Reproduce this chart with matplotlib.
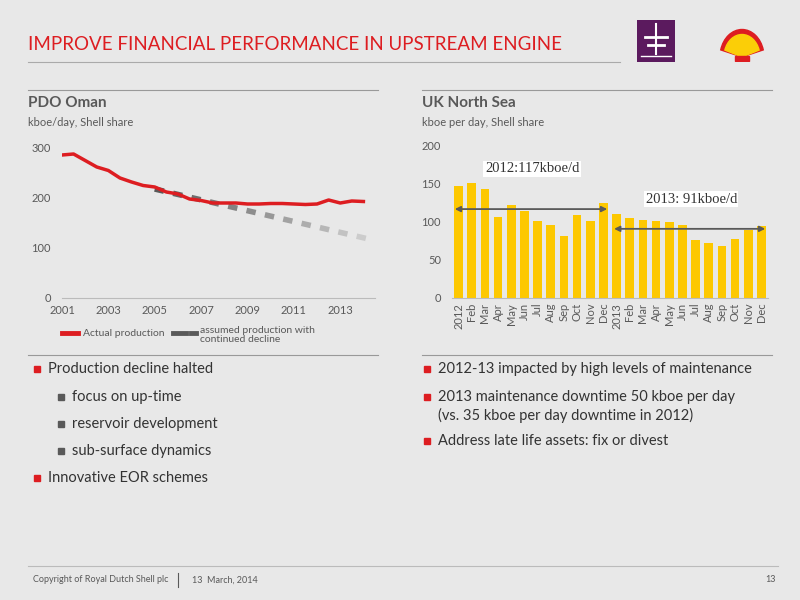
import numpy as np
import matplotlib.pyplot as plt
from matplotlib.patches import Rectangle, Wedge

plt.rcParams['font.family'] = ['Lato', 'DejaVu Sans']

# PDO Oman, actual production (kboe/d)
oman_years = [2001, 2001.5, 2002, 2002.5, 2003, 2003.5, 2004, 2004.5, 2005, 2005.5,
              2006, 2006.5, 2007, 2007.5, 2008, 2008.5, 2009, 2009.5, 2010, 2010.5,
              2011, 2011.5, 2012, 2012.5, 2013, 2013.5, 2014]
oman_actual = [286, 288, 275, 262, 255, 240, 232, 225, 222, 212,
               208, 198, 195, 190, 190, 190, 188, 188, 189, 189,
               188, 187, 188, 196, 190, 194, 193]
decline_years = [2005, 2014.5]
decline_vals = [218, 115]

# UK North Sea monthly (kboe/d)
uk_labels = ["2012", "Feb", "Mar", "Apr", "May", "Jun", "Jul", "Aug", "Sep", "Oct", "Nov", "Dec",
             "2013", "Feb", "Mar", "Apr", "May", "Jun", "Jul", "Aug", "Sep", "Oct", "Nov", "Dec"]
uk_vals = [147, 151, 144, 107, 122, 114, 101, 96, 82, 109, 101, 125,
           111, 105, 102, 101, 100, 96, 76, 72, 69, 78, 90, 95]

BG = "#e8e8e8"
RED = "#dd1d21"
GREY = "#595959"

fig = plt.figure(figsize=(8, 6), dpi=100, facecolor=BG)

def px(x, y, w, h):
    return [x / 800, 1 - (y + h) / 600, w / 800, h / 600]

# header
fig.text(28 / 800, 1 - 45 / 600, "IMPROVE FINANCIAL PERFORMANCE IN UPSTREAM ENGINE",
         color=RED, fontsize=13.5, va="center")
fig.add_artist(plt.Line2D([28 / 800, 620 / 800], [1 - 62 / 600] * 2, color="#aaaaaa", lw=0.8))
ax_icon = fig.add_axes(px(637, 20, 38, 42))
ax_icon.set_facecolor("#5b1a5e")
ax_icon.set_xticks([]); ax_icon.set_yticks([])
ax_icon.set_xlim(0, 10); ax_icon.set_ylim(0, 10)
for s in ax_icon.spines.values():
    s.set_visible(False)
ax_icon.plot([5, 5], [2, 9], color="white", lw=1.5)
ax_icon.plot([2, 8], [6, 6], color="white", lw=2)
ax_icon.plot([3, 7], [4, 4], color="white", lw=2)
ax_icon.plot([1, 9], [1.5, 1.5], color="white", lw=1)
ax_logo = fig.add_axes(px(718, 22, 48, 40))
ax_logo.set_xlim(-1.2, 1.2); ax_logo.set_ylim(-0.2, 1.4); ax_logo.axis("off")
ax_logo.add_patch(Wedge((0, 0), 1.1, 15, 165, color=RED))
ax_logo.add_patch(Wedge((0, 0), 0.9, 18, 162, color="#fbce07"))
ax_logo.add_patch(Rectangle((-0.35, -0.15), 0.7, 0.2, color=RED))

# section titles
for x0, title, sub in [(28, "PDO Oman", "kboe/day, Shell share"),
                       (422, "UK North Sea", "kboe per day, Shell share")]:
    fig.add_artist(plt.Line2D([x0 / 800, (x0 + 350) / 800], [1 - 90 / 600] * 2, color="#999999", lw=0.8))
    fig.text(x0 / 800, 1 - 103 / 600, title, color=GREY, fontsize=11, fontweight="bold", va="center")
    fig.text(x0 / 800, 1 - 123 / 600, sub, color=GREY, fontsize=8, va="center")
    fig.add_artist(plt.Line2D([x0 / 800, (x0 + 350) / 800], [1 - 355 / 600] * 2, color="#999999", lw=0.8))

# left chart
ax1 = fig.add_axes(px(62, 148, 313, 150))
ax1.set_facecolor(BG)
ax1.set_xlim(2001, 2014.5)
ax1.set_ylim(0, 300)
n = 12
xs = np.linspace(decline_years[0], decline_years[1], n * 2 + 1)
ys = np.interp(xs, decline_years, decline_vals)
for i in range(n):
    g = 0.35 + 0.45 * i / (n - 1)
    ax1.plot(xs[2 * i:2 * i + 2], ys[2 * i:2 * i + 2], color=(g, g, g), lw=4, solid_capstyle="butt")
ax1.plot(oman_years, oman_actual, color=RED, lw=2.5)
ax1.set_xticks(range(2001, 2014, 2))
ax1.set_yticks([0, 100, 200, 300])
for s in ["top", "right", "left"]:
    ax1.spines[s].set_visible(False)
ax1.spines["bottom"].set_color("#bbbbbb")
ax1.tick_params(length=0, colors=GREY, labelsize=8)
ax1.tick_params(axis="y", pad=8)
ax1.tick_params(axis="x", pad=5)
fig.add_artist(plt.Line2D([62 / 800, 78 / 800], [1 - 333 / 600] * 2, color=RED, lw=3.5))
fig.text(83 / 800, 1 - 333 / 600, "Actual production", color=GREY, fontsize=7.5, va="center")
fig.add_artist(plt.Line2D([173 / 800, 186 / 800], [1 - 333 / 600] * 2, color=GREY, lw=3.5))
fig.add_artist(plt.Line2D([191 / 800, 196 / 800], [1 - 333 / 600] * 2, color=GREY, lw=3.5))
fig.text(200 / 800, 1 - 335 / 600, "assumed production with\ncontinued decline", color=GREY,
         fontsize=7.5, va="center", linespacing=1.1)

# right chart
ax2 = fig.add_axes(px(452, 146, 316, 152))
ax2.set_facecolor(BG)
x = np.arange(len(uk_vals))
ax2.bar(x, uk_vals, width=0.65, color="#fdc800")
ax2.set_xlim(-0.5, len(uk_vals) - 0.5)
ax2.set_ylim(0, 200)
ax2.set_yticks([0, 50, 100, 150, 200])
ax2.set_xticks(x)
ax2.set_xticklabels(uk_labels, rotation=90)
for s in ["top", "right", "left"]:
    ax2.spines[s].set_visible(False)
ax2.spines["bottom"].set_color("#bbbbbb")
ax2.tick_params(length=0, colors=GREY, labelsize=8)
ax2.tick_params(axis="y", pad=8)
arrow = dict(arrowstyle="<|-|>", color=GREY, lw=1.3, mutation_scale=8)
ax2.annotate("", xy=(-0.5, 117), xytext=(11.5, 117), arrowprops=arrow)
ax2.annotate("", xy=(11.6, 91), xytext=(23.5, 91), arrowprops=arrow)
ax2.text(2, 170, "2012:117kboe/d", fontsize=10.5, family="Liberation Serif", color="#333333",
         va="center", bbox=dict(facecolor="white", edgecolor="none", pad=1))
ax2.text(14.2, 130, "2013: 91kboe/d", fontsize=10.5, family="Liberation Serif", color="#333333",
         va="center", bbox=dict(facecolor="white", edgecolor="none", pad=1))

# bullets
def bullet(x0, y0, text, col, size=10.5):
    fig.add_artist(Rectangle(((x0 - 14) / 800, 1 - (y0 + 3) / 600), 6 / 800, 6 / 600,
                             color=col, transform=fig.transFigure))
    fig.text(x0 / 800, 1 - y0 / 600, text, color="#333333", fontsize=size, va="center", linespacing=1.2)

bullet(48, 369, "Production decline halted", RED)
bullet(72, 397, "focus on up-time", GREY)
bullet(72, 424, "reservoir development", GREY)
bullet(72, 451, "sub-surface dynamics", GREY)
bullet(48, 478, "Innovative EOR schemes", RED)
bullet(438, 369, "2012-13 impacted by high levels of maintenance", RED)
bullet(438, 397, "2013 maintenance downtime 50 kboe per day", RED)
fig.text(438 / 800, 1 - 415 / 600, "(vs. 35 kboe per day downtime in 2012)", color="#333333",
         fontsize=10.5, va="center")
bullet(438, 441, "Address late life assets: fix or divest", RED)

# footer
fig.add_artist(plt.Line2D([28 / 800, 778 / 800], [1 - 566 / 600] * 2, color="#bbbbbb", lw=0.8))
fig.text(33 / 800, 1 - 580 / 600, "Copyright of Royal Dutch Shell plc", color=GREY, fontsize=6.5, va="center")
fig.add_artist(plt.Line2D([178 / 800] * 2, [1 - 573 / 600, 1 - 587 / 600], color=GREY, lw=0.8))
fig.text(192 / 800, 1 - 580 / 600, "13  March, 2014", color=GREY, fontsize=6.5, va="center")
fig.text(776 / 800, 1 - 580 / 600, "13", color=GREY, fontsize=6.5, va="center", ha="right")

fig.savefig("out.png", dpi=100, facecolor=BG)
